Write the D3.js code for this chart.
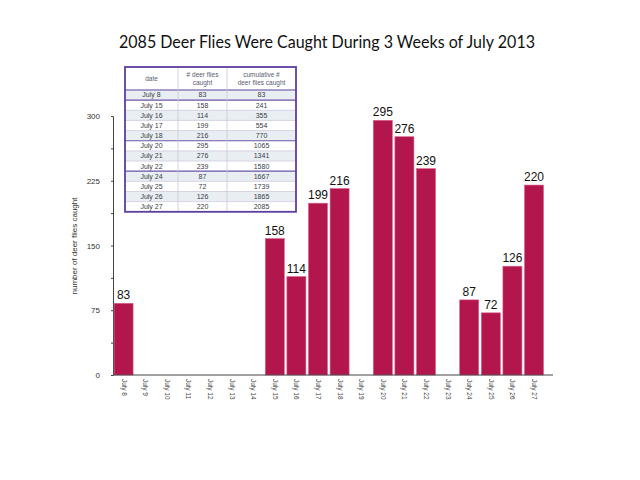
<!DOCTYPE html>
<html>
<head>
<meta charset="utf-8">
<script src="https://cdn.jsdelivr.net/npm/d3@7"></script>
<style>
  body { margin: 0; background: #fff; }
  svg { display: block; }
</style>
</head>
<body>
<div id="chart"></div>
<script>
// daily catch, July 8 - July 27 (null = no trapping that day)
const days = ["July 8", "July 9", "July 10", "July 11", "July 12", "July 13", "July 14",
  "July 15", "July 16", "July 17", "July 18", "July 19", "July 20", "July 21", "July 22",
  "July 23", "July 24", "July 25", "July 26", "July 27"];
const caught = [83, null, null, null, null, null, null, 158, 114, 199, 216, null,
  295, 276, 239, null, 87, 72, 126, 220];
const yTicks = [0, 37.5, 75, 112.5, 150, 187.5, 225, 262.5, 300];
const yLabels = [0, 75, 150, 225, 300];

// inset table
const tableDates = ["July 8", "July 15", "July 16", "July 17", "July 18", "July 20",
  "July 21", "July 22", "July 24", "July 25", "July 26", "July 27"];
const tableCounts = [83, 158, 114, 199, 216, 295, 276, 239, 87, 72, 126, 220];
const tableCumulative = [83, 241, 355, 554, 770, 1065, 1341, 1580, 1667, 1739, 1865, 2085];
const tableBreaks = [1, 5, 8]; // heavier line above these rows (week gaps)

const width = 640, height = 480;
const svg = d3.select("#chart").append("svg")
  .attr("width", width)
  .attr("height", height);

svg.append("text")
  .attr("x", 327)
  .attr("y", 48)
  .attr("text-anchor", "middle")
  .attr("textLength", 416)
  .attr("lengthAdjust", "spacingAndGlyphs")
  .style("font-family", "Lato, 'Open Sans', sans-serif")
  .style("font-size", "17px")
  .style("fill", "#111")
  .text("2085 Deer Flies Were Caught During 3 Weeks of July 2013");

const x = d3.scaleBand().domain(days).range([113, 544.6]).paddingInner(0.12).paddingOuter(0.05);
const y = d3.scaleLinear().domain([0, 300]).range([375, 116]);

// y axis
const yAxis = svg.append("g")
  .attr("transform", "translate(113,0)")
  .call(d3.axisLeft(y).tickValues(yTicks).tickSize(2).tickFormat(""));
yAxis.selectAll("line, path").attr("stroke", "#444");

svg.selectAll(".ylab")
  .data(yLabels)
  .enter().append("text")
  .attr("class", "ylab")
  .attr("x", 100)
  .attr("y", d => y(d) + 3)
  .attr("text-anchor", "end")
  .style("font-family", "'Liberation Sans', Arial, sans-serif")
  .style("font-size", "8px")
  .style("fill", "#333")
  .text(d => d);

svg.append("text")
  .attr("transform", "translate(77,246) rotate(-90)")
  .attr("text-anchor", "middle")
  .style("font-family", "'Liberation Sans', Arial, sans-serif")
  .style("font-size", "8px")
  .style("fill", "#333")
  .text("number of deer flies caught");

// bars
const bars = days.map((d, i) => ({ day: d, value: caught[i] })).filter(d => d.value !== null);

svg.selectAll(".bar")
  .data(bars)
  .enter().append("rect")
  .attr("class", "bar")
  .attr("x", d => x(d.day))
  .attr("y", d => y(d.value))
  .attr("width", x.bandwidth())
  .attr("height", d => y(0) - y(d.value))
  .attr("fill", "#b2164c")
  .attr("stroke", "#d9608a")
  .attr("stroke-width", 0.6);

svg.selectAll(".val")
  .data(bars)
  .enter().append("text")
  .attr("class", "val")
  .attr("x", d => x(d.day) + x.bandwidth() / 2)
  .attr("y", d => y(d.value) - 4)
  .attr("text-anchor", "middle")
  .style("font-family", "'Liberation Sans', Arial, sans-serif")
  .style("font-size", "12px")
  .style("fill", "#111")
  .text(d => d.value);

// x axis
svg.append("line")
  .attr("x1", 113).attr("x2", 553)
  .attr("y1", y(0)).attr("y2", y(0))
  .attr("stroke", "#444")
  .attr("stroke-width", 1.2);

svg.selectAll(".xlab")
  .data(days)
  .enter().append("text")
  .attr("class", "xlab")
  .attr("transform", d => `translate(${x(d) + x.bandwidth() / 2 - 2},379) rotate(90)`)
  .attr("text-anchor", "start")
  .style("font-family", "'Liberation Sans', Arial, sans-serif")
  .style("font-size", "6.5px")
  .style("fill", "#444")
  .text(d => d);

// inset table
const tX = 125, tY = 67, rowH = 10.15, headH = 23;
const cols = [125, 178, 227, 296];
const table = svg.append("g");

table.append("rect")
  .attr("x", tX).attr("y", tY)
  .attr("width", cols[3] - tX).attr("height", headH)
  .attr("fill", "#fff");

const rows = table.selectAll(".row")
  .data(tableDates)
  .enter().append("g")
  .attr("class", "row")
  .attr("transform", (d, i) => `translate(0,${tY + headH + i * rowH})`);

rows.append("rect")
  .attr("x", tX).attr("width", cols[3] - tX).attr("height", rowH)
  .attr("fill", (d, i) => i % 2 === 0 ? "#e8eef1" : "#fff");

rows.append("line")
  .attr("x1", tX).attr("x2", cols[3])
  .attr("stroke", (d, i) => tableBreaks.includes(i) ? "#6a55a8" : "#c9c4dc")
  .attr("stroke-width", (d, i) => tableBreaks.includes(i) ? 1.2 : 0.7);

const cellText = (sel, cx, fn) => sel.append("text")
  .attr("x", cx)
  .attr("y", rowH / 2 + 2.4)
  .attr("text-anchor", "middle")
  .style("font-family", "'Liberation Sans', Arial, sans-serif")
  .style("font-size", "7px")
  .style("fill", "#3a3d4a")
  .text(fn);

cellText(rows, (cols[0] + cols[1]) / 2, d => d);
cellText(rows, (cols[1] + cols[2]) / 2, (d, i) => tableCounts[i]);
cellText(rows, (cols[2] + cols[3]) / 2, (d, i) => tableCumulative[i]);

// header
const headers = [["date"], ["# deer flies", "caught"], ["cumulative #", "deer flies caught"]];
headers.forEach((lines, c) => {
  const t = table.append("text")
    .attr("text-anchor", "middle")
    .style("font-family", "'Liberation Sans', Arial, sans-serif")
    .style("font-size", "6.5px")
    .style("fill", "#5a6070");
  lines.forEach((line, k) => {
    t.append("tspan")
      .attr("x", (cols[c] + cols[c + 1]) / 2)
      .attr("y", lines.length === 1 ? tY + 14 : tY + 10 + k * 7.5)
      .text(line);
  });
});

table.append("line")
  .attr("x1", tX).attr("x2", cols[3])
  .attr("y1", tY + headH).attr("y2", tY + headH)
  .attr("stroke", "#6a55a8").attr("stroke-width", 1.2);

table.selectAll(".colline")
  .data(cols.slice(1, 3))
  .enter().append("line")
  .attr("x1", d => d).attr("x2", d => d)
  .attr("y1", tY).attr("y2", tY + headH + tableDates.length * rowH)
  .attr("stroke", "#c9c4dc").attr("stroke-width", 0.8);

table.append("rect")
  .attr("x", tX).attr("y", tY)
  .attr("width", cols[3] - tX)
  .attr("height", headH + tableDates.length * rowH)
  .attr("fill", "none")
  .attr("stroke", "#5b3f9e")
  .attr("stroke-width", 1.8);
</script>
</body>
</html>
